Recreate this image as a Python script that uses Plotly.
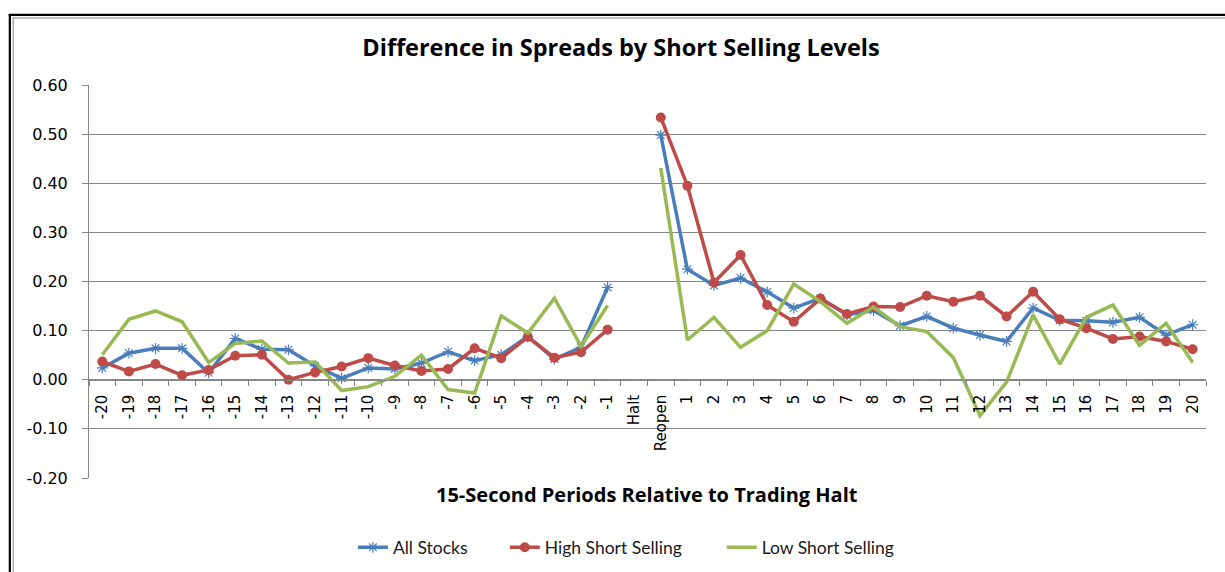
import plotly.graph_objects as go

categories = [str(i) for i in range(-20, 0)] + ["Halt", "Reopen"] + [str(i) for i in range(1, 21)]

all_stocks = [0.024, 0.054, 0.064, 0.064, 0.014, 0.084, 0.062, 0.061, 0.028, 0.003,
              0.024, 0.022, 0.034, 0.057, 0.039, 0.051, 0.088, 0.042, 0.066, 0.188,
              None, 0.498,
              0.225, 0.192, 0.207, 0.179, 0.146, 0.166, 0.132, 0.141, 0.110, 0.129,
              0.105, 0.091, 0.078, 0.146, 0.121, 0.120, 0.117, 0.127, 0.091, 0.112]

high_short = [0.037, 0.017, 0.032, 0.009, 0.020, 0.049, 0.051, 0.000, 0.015, 0.027,
              0.044, 0.029, 0.018, 0.022, 0.064, 0.044, 0.087, 0.045, 0.056, 0.102,
              None, 0.534,
              0.395, 0.198, 0.254, 0.152, 0.118, 0.165, 0.134, 0.149, 0.148, 0.171,
              0.159, 0.171, 0.129, 0.179, 0.123, 0.105, 0.083, 0.088, 0.078, 0.062]

low_short = [0.051, 0.123, 0.140, 0.118, 0.035, 0.074, 0.079, 0.034, 0.036, -0.022,
             -0.014, 0.007, 0.050, -0.020, -0.027, 0.130, 0.095, 0.166, 0.068, 0.151,
             None, 0.431,
             0.081, 0.127, 0.066, 0.100, 0.195, 0.159, 0.115, 0.148, 0.108, 0.098,
             0.045, -0.073, -0.005, 0.132, 0.032, 0.127, 0.152, 0.070, 0.115, 0.035]

y_ticks = [-0.2, -0.1, 0.0, 0.1, 0.2, 0.3, 0.4, 0.5, 0.6]
y_tick_labels = ["-0.20", "-0.10", "0.00", "0.10", "0.20", "0.30", "0.40", "0.50", "0.60"]

W, H = 1225, 572
L, R, T, B = 89, 18.5, 84.5, 94
pw, ph = W - L - R, H - T - B


def px_x(p):
    return (p - L) / pw


def px_y(p):
    return (H - B - p) / ph


BLUE = "#4A7EBB"
RED = "#BE4B48"
GREEN = "#98B954"
GRID = "#868686"
FONT = "DejaVu Sans"

fig = go.Figure()
fig.add_trace(go.Scatter(
    x=categories, y=all_stocks, name="All Stocks", mode="lines+markers",
    line=dict(color=BLUE, width=3.5),
    marker=dict(symbol="asterisk-open", size=9, line=dict(color=BLUE, width=1.2)),
    connectgaps=False, legend="legend"))
fig.add_trace(go.Scatter(
    x=categories, y=high_short, name="High Short Selling", mode="lines+markers",
    line=dict(color=RED, width=3.5),
    marker=dict(symbol="circle", size=10, color=RED),
    connectgaps=False, legend="legend2"))
fig.add_trace(go.Scatter(
    x=categories, y=low_short, name="Low Short Selling", mode="lines",
    line=dict(color=GREEN, width=3.5),
    connectgaps=False, legend="legend3"))

shapes = [
    dict(type="line", xref="paper", yref="paper", x0=px_x(8.7), x1=px_x(1230), y0=px_y(14.3), y1=px_y(14.3),
         line=dict(color="black", width=2.2)),
    dict(type="line", xref="paper", yref="paper", x0=px_x(9.8), x1=px_x(9.8), y0=px_y(13.3), y1=px_y(580),
         line=dict(color="black", width=2.2)),
    dict(type="line", xref="paper", yref="paper", x0=px_x(12.8), x1=px_x(1230), y0=px_y(17.5), y1=px_y(17.5),
         line=dict(color="#AAAAAA", width=1.5)),
    dict(type="line", xref="paper", yref="paper", x0=px_x(13.3), x1=px_x(13.3), y0=px_y(17), y1=px_y(580),
         line=dict(color="#AAAAAA", width=1.5)),
]

leg_common = dict(orientation="h", yanchor="middle", y=px_y(547.5), xanchor="left",
                  font=dict(family="Lato", size=17.5, color="#1a1a1a"), bgcolor="rgba(0,0,0,0)",
                  itemwidth=30, tracegroupgap=0)

fig.update_layout(
    template="none",
    width=W, height=H, autosize=False,
    margin=dict(l=L, r=R, t=T, b=B, pad=0, autoexpand=False),
    paper_bgcolor="white", plot_bgcolor="white",
    title=dict(text="<b>Difference in Spreads by Short Selling Levels</b>",
               x=621 / W, xref="container", xanchor="center",
               y=1 - 48 / H, yref="container", yanchor="middle",
               font=dict(family="Open Sans", size=23.5, color="black")),
    showlegend=True,
    legend=dict(leg_common, x=px_x(353)),
    legend2=dict(leg_common, x=px_x(505)),
    legend3=dict(leg_common, x=px_x(722)),
    xaxis=dict(type="category", categoryorder="array", categoryarray=categories,
               anchor="free", position=0.25, showgrid=False, automargin=False,
               showline=True, linecolor=GRID, linewidth=1,
               ticks="outside", tickson="boundaries", ticklen=5, tickcolor=GRID, tickwidth=1,
               tickangle=-90, ticklabelstandoff=8,
               tickfont=dict(family=FONT, size=15, color="black"),
               range=[-0.5, len(categories) - 0.5], fixedrange=True),
    yaxis=dict(range=[-0.2, 0.6], tickvals=y_ticks, ticktext=y_tick_labels, automargin=False,
               showgrid=True, gridcolor=GRID, gridwidth=1, zeroline=False,
               showline=True, linecolor=GRID, linewidth=1,
               ticks="outside", ticklen=6, tickcolor=GRID, ticklabelstandoff=11,
               tickfont=dict(family=FONT, size=16, color="black"), fixedrange=True),
    shapes=shapes,
    annotations=[dict(text="<b>15-Second Periods Relative to Trading Halt</b>",
                      xref="paper", yref="paper", x=px_x(647.5), y=px_y(495),
                      xanchor="center", yanchor="middle", showarrow=False,
                      font=dict(family="Open Sans", size=20, color="black"))],
)

fig.write_html("out.html", config={"displayModeBar": False},
               post_script="document.body.style.margin='0px';document.body.style.overflow='hidden';")
